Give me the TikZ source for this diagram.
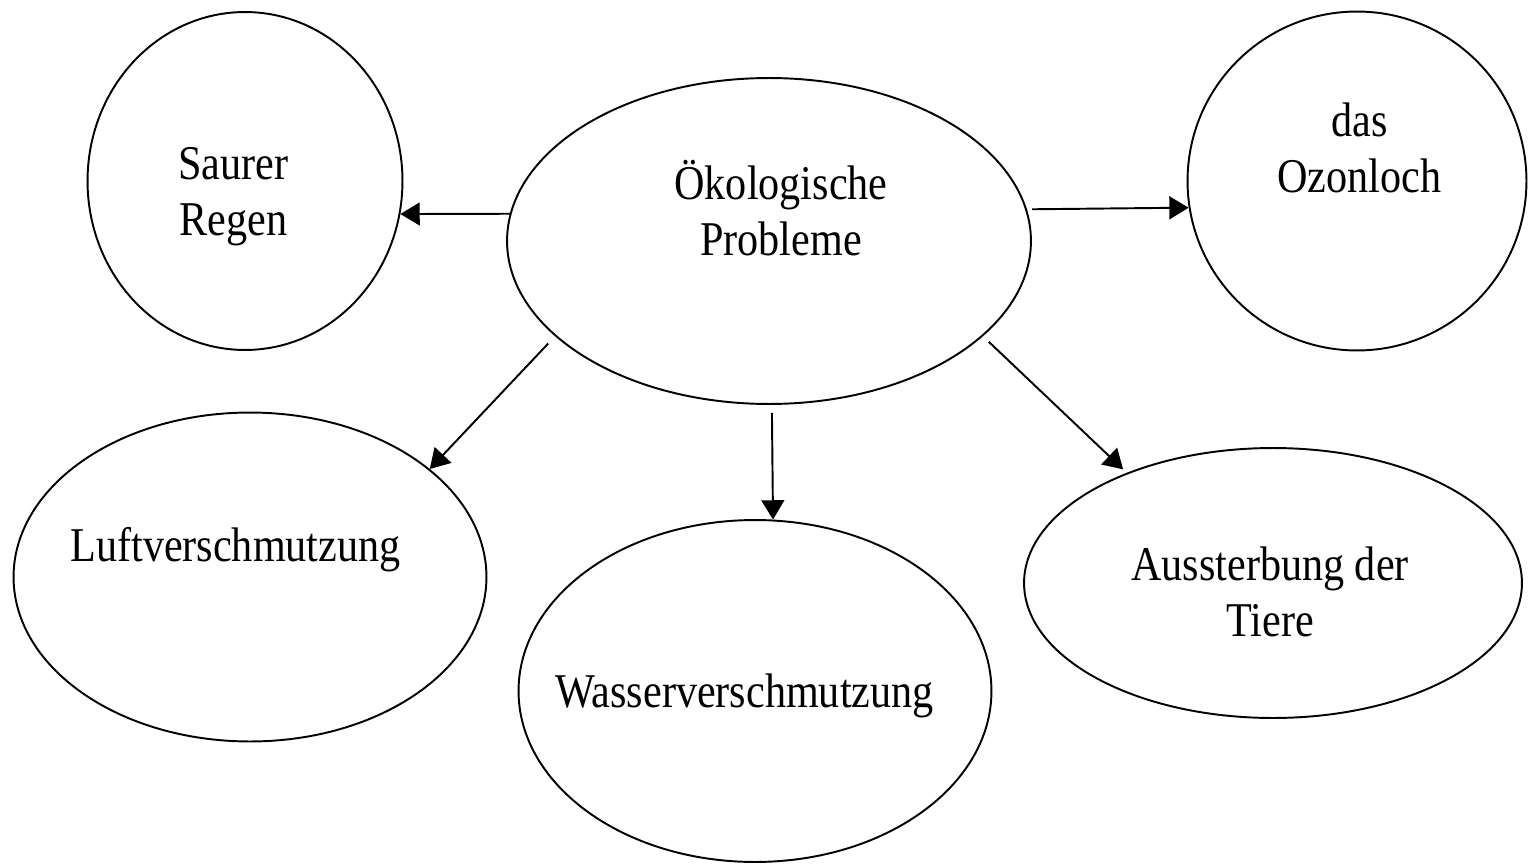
\documentclass[tikz,border=0pt]{standalone}
\usepackage{fontspec}
\setmainfont{Liberation Serif}
\usepackage{graphicx}
\usetikzlibrary{shapes.geometric}
\usetikzlibrary{arrows.meta}
\newcommand{\tallText}[1]{ % stretches the lines a bit in height, baseline stays on the first line
    \scalebox{1}[1.15]{\begin{tabular}[t]{@{}c@{}}#1\end{tabular}}
}
\tikzset{
    bubble/.style={draw, ellipse, line width=1.1pt, inner sep=0pt},
    caption/.style={anchor=base, inner sep=0pt, font=\fontsize{24}{28}\selectfont},
    link/.style={-{Triangle[length=11pt,width=13pt]}, line width=1.1pt},
}

\begin{document}
\begin{tikzpicture}[x=0.02cm, y=-0.02cm]
            \useasboundingbox (0,0) rectangle (1528,865);

            % Ellipses
            \node[bubble, minimum width=10.48cm, minimum height=6.52cm] (eco) at (769,241) {};
            \node[bubble, minimum width=6.3cm, minimum height=6.76cm] (saurer) at (245,181) {};
            \node[bubble, minimum width=6.78cm, minimum height=6.78cm] (ozon) at (1357,181) {};
            \node[bubble, minimum width=9.46cm, minimum height=6.58cm] (luft) at (250,577) {};
            \node[bubble, minimum width=9.46cm, minimum height=6.84cm] (wasser) at (755,691) {};
            \node[bubble, minimum width=9.96cm, minimum height=5.4cm] (aus) at (1273,583) {};

            % Texts
            \node[caption] (eco-t) at (781,199) {\tallText{Ökologische\\Probleme}};
            \node[caption] (saurer-t) at (233.5,179) {\tallText{Saurer\\Regen}};
            \node[caption] (ozon-t) at (1359.5,136) {\tallText{das\\Ozonloch}};
            \node[caption] (luft-t) at (235.5,561) {\tallText{Luftverschmutzung}};
            \node[caption] (wasser-t) at (744.5,707) {\tallText{Wasserverschmutzung}};
            \node[caption] (aus-t) at (1270,580) {\tallText{Aussterbung der\\Tiere}};

            % Arrows
            \draw[link] (eco.174.2) -- (saurer.-12.3);
            \draw[link, shorten <=3pt] (eco.7.3) -- (ozon.189.1);
            \draw[link, shorten <=0.2cm] (eco.204.4) -- (luft.31.6);
            \draw[link, shorten <=0.16cm] (eco.-89.3) -- (wasser.84.65);
            \draw[link, shorten <=0.16cm, shorten >=0.1cm] (eco.-24.3) -- (aus.143.4);
        \end{tikzpicture}
\end{document}
